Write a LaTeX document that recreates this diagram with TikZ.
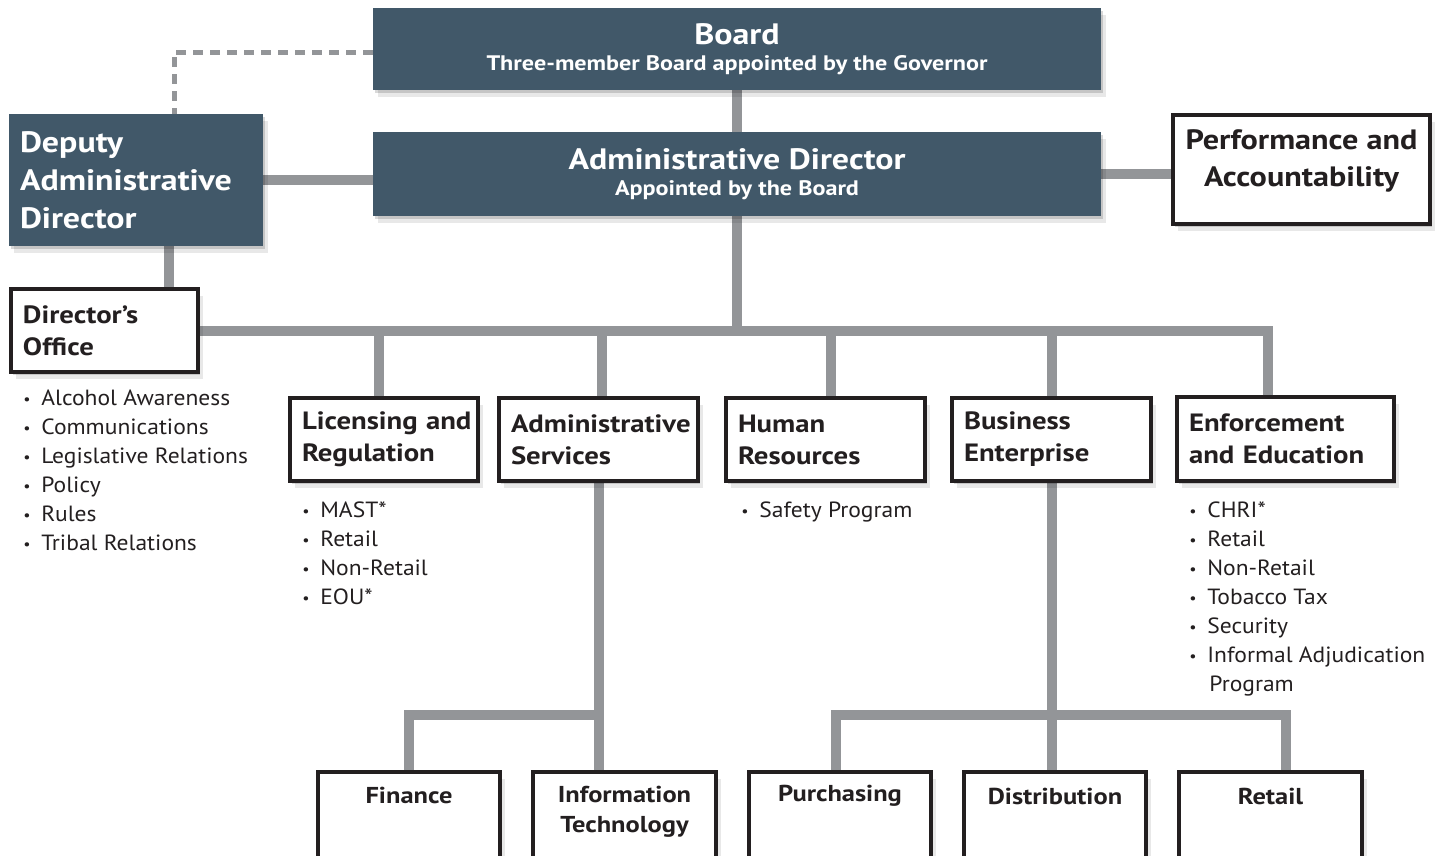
\documentclass[tikz,border=0pt]{standalone}
\usepackage{fontspec}
\setmainfont{PT Sans}[UprightFeatures={FakeStretch=1.07},BoldFeatures={FakeStretch=1.15}]
\usetikzlibrary{calc,shadows}

\definecolor{slate}{RGB}{65,88,105}
\definecolor{linkgrey}{RGB}{147,149,152}
\definecolor{ink}{RGB}{35,31,32}

\pgfdeclarelayer{background}
\pgfsetlayers{background,main}

\newcommand\bul{\makebox[18pt][l]{\raisebox{1pt}{\fontsize{15}{15}\selectfont\textbullet}}}

\tikzset{every picture/.style={line width=0.75pt}}
\tikzset{
  boxshadow/.style={drop shadow={shadow xshift=2pt,shadow yshift=-3pt,opacity=0.15,fill=black},
                    drop shadow={shadow xshift=5pt,shadow yshift=-7pt,opacity=0.09,fill=black}},
  darkbox/.style={fill=slate,text=white,inner sep=0pt,align=center,boxshadow},
  whitebox/.style={draw=ink,line width=4pt,fill=white,text=ink,inner xsep=12pt,inner ysep=0pt,
                   align=left,font=\bfseries\fontsize{25}{32}\selectfont,boxshadow},
  lowbox/.style={draw=ink,line width=4pt,fill=white,inner sep=0pt,minimum height=120,boxshadow},
  lowtext/.style={text=ink,align=center,inner sep=0pt,font=\bfseries\fontsize{23}{30}\selectfont},
  itemlist/.style={text=ink,align=left,inner sep=0pt,anchor=base west,font=\fontsize{22}{29}\selectfont},
  link/.style={draw=linkgrey,line width=10pt},
  dashlink/.style={draw=linkgrey,line width=5pt,dash pattern=on 10pt off 7pt}
}

\begin{document}
\begin{tikzpicture}[x=1pt,y=1pt,yscale=-1,xscale=1]
\useasboundingbox (0,0) rectangle (1442,855);

% top of the chart
\node[darkbox,minimum width=728,minimum height=82] (board) at (737,49)
  {{\bfseries\fontsize{29.5}{32}\selectfont Board}\\[9pt]{\bfseries\fontsize{21}{24}\selectfont Three-member Board appointed by the Governor}};
\node[darkbox,minimum width=728,minimum height=84] (admdir) at (737,174)
  {{\bfseries\fontsize{29.5}{32}\selectfont Administrative Director}\\[9pt]{\bfseries\fontsize{21}{24}\selectfont Appointed by the Board}};
\node[darkbox,minimum width=254,minimum height=132,align=left,text width=232,
      font=\bfseries\fontsize{29.5}{38}\selectfont] (deputy) at (136,180)
  {Deputy\\Administrative\\Director};
\node[whitebox,minimum width=257,minimum height=109] (perf) at (1301.5,169.5) {};
\node[lowtext,font=\bfseries\fontsize{28}{37}\selectfont] (perftxt) at (1301.5,160.5)
  {Performance and\\Accountability};

% second row
\node[whitebox,minimum width=187,minimum height=83,text width=163] (office) at (104.5,330.5)
  {Director's\\Office};
\node[whitebox,minimum width=188,minimum height=83,text width=164] (lic) at (384,439.5)
  {\mbox{Licensing and}\\Regulation};
\node[whitebox,minimum width=199,minimum height=83,text width=175] (admsrv) at (598.5,439.5)
  {Administrative\\Services};
\node[whitebox,minimum width=199,minimum height=83,text width=175] (hr) at (825.5,439.5)
  {Human\\Resources};
\node[whitebox,minimum width=199,minimum height=83,text width=175] (bus) at (1051.5,439.5)
  {Business\\Enterprise};
\node[whitebox,minimum width=217,minimum height=84,text width=193] (enf) at (1285.5,439)
  {Enforcement\\and Education};

% lists under the boxes (base = last line)
\node[itemlist] (officelist) at (23,550)
  {\bul Alcohol Awareness\\\bul Communications\\\bul Legislative Relations\\\bul Policy\\\bul Rules\\\bul Tribal Relations};
\node[itemlist] (liclist) at (302,604)
  {\bul MAST*\\\bul Retail\\\bul Non-Retail\\\bul EOU*};
\node[itemlist] (hrlist) at (741,517) {\bul Safety Program};
\node[itemlist] (enflist) at (1189,691)
  {\bul CHRI*\\\bul Retail\\\bul Non-Retail\\\bul Tobacco Tax\\\bul Security\\\bul Informal Adjudication\\\hspace*{20pt}Program};

% bottom row
\node[lowbox,minimum width=182] (fin) at (409,832) {};
\node[lowbox,minimum width=183] (it) at (624.5,832) {};
\node[lowbox,minimum width=182] (pur) at (840,832) {};
\node[lowbox,minimum width=182] (dist) at (1055,832) {};
\node[lowbox,minimum width=183] (ret) at (1270.5,832) {};
\node[lowtext] (fintxt) at (409,795) {Finance};
\node[lowtext] (ittxt) at (624.5,812) {Information\\Technology};
\node[lowtext] (purtxt) at (840,796) {Purchasing};
\node[lowtext] (disttxt) at (1055,796) {Distribution};
\node[lowtext] (rettxt) at (1270.5,796) {Retail};

\coordinate (itbar) at (600,715);
\coordinate (busbar) at (1052,715);

\begin{pgfonlayer}{background}
% reporting lines
\draw[dashlink] ($(board.west)+(0,3)$) -| ($(deputy.north)+(38,0)$);
\draw[link] (board) -- (admdir);
\draw[link] (deputy.east) -- (deputy.east -| admdir.west);
\draw[link] (admdir.east) -- (admdir.east -| perf.west);
\draw[link] ($(deputy.south)+(33,0)$) coordinate (dlink) -- (dlink |- office.north);
\draw[link] (admdir.south) -- (admdir.south |- office.east);
\draw[link] (office.east) -| ($(enf.north)+(-17.5,0)$);
\draw[link] ($(lic.north)+(-5,0)$) coordinate (licup) -- (licup |- office.east);
\draw[link] ($(admsrv.north)+(3.5,0)$) coordinate (admup) -- (admup |- office.east);
\draw[link] ($(hr.north)+(5.5,0)$) coordinate (hrup) -- (hrup |- office.east);
\draw[link] (bus.north) -- (bus.north |- office.east);
% under Administrative Services
\draw[link] (admsrv.south) -- (admsrv.south |- it.north);
\draw[link] (itbar) -| (fin.north);
% under Business Enterprise
\draw[link] (bus.south) -- (bus.south |- dist.north);
\draw[link] ($(pur.north)+(-4,0)$) |- (busbar) -| ($(ret.north)+(15.5,0)$);
\end{pgfonlayer}

\end{tikzpicture}
\end{document}
